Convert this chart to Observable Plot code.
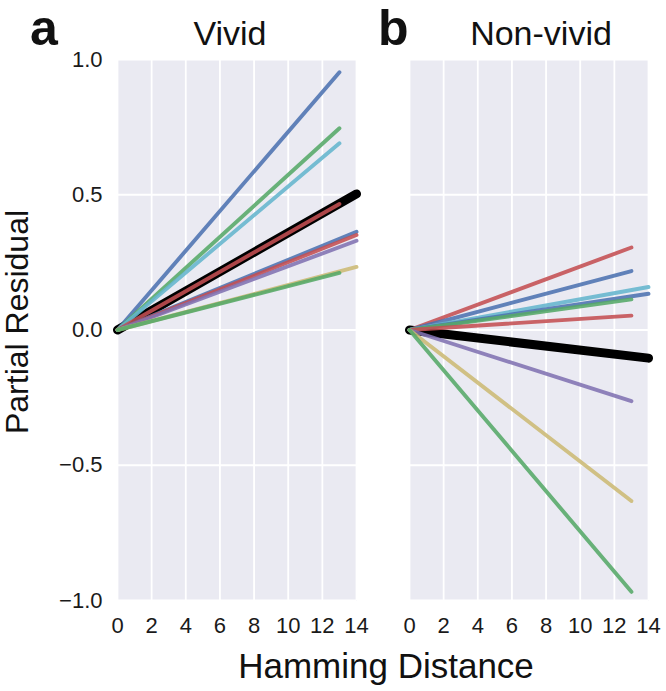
<!DOCTYPE html>
<html><head><meta charset="utf-8">
<script src="https://cdn.jsdelivr.net/npm/d3@7"></script>
<script src="https://cdn.jsdelivr.net/npm/@observablehq/plot@0.6"></script>
<style>body{margin:0;background:#fff}</style>
</head><body><div id="chart"></div>
<script>
const conditions = ["Vivid", "Non-vivid"];
const panelLetters = ["a", "b"];
const palette = ["#4C72B0", "#55A868", "#C44E52", "#8172B2", "#CCB974", "#64B5CD"];
const xTicks = [0, 2, 4, 6, 8, 10, 12, 14];
const yTicks = [-1, -0.5, 0, 0.5, 1];
const xLabel = "Hamming Distance";
const yLabel = "Partial Residual";

// individual fitted lines (each starts at 0,0)
const vividColor = [0, 1, 5, 2, 0, 2, 3, 4, 1];
const vividEndX = [13, 13, 13, 13, 14, 14, 14, 14, 13];
const vividEndY = [0.953, 0.746, 0.69, 0.466, 0.363, 0.351, 0.33, 0.233, 0.211];
const nonVividColor = [2, 0, 5, 0, 1, 2, 3, 4, 1];
const nonVividEndX = [13, 13, 14, 14, 13, 13, 13, 13, 13];
const nonVividEndY = [0.305, 0.218, 0.159, 0.134, 0.113, 0.053, -0.263, -0.632, -0.968];
// group-level fit (black)
const groupEndX = [14, 14];
const groupEndY = [0.503, -0.104];

const rows = [];
const addLines = (cond, cols, ex, ey) => {
  cols.forEach((c, i) => {
    const id = cond + i;
    rows.push({cond, id, color: palette[c], x: 0, y: 0});
    rows.push({cond, id, color: palette[c], x: ex[i], y: ey[i]});
  });
};
addLines(conditions[0], vividColor, vividEndX, vividEndY);
addLines(conditions[1], nonVividColor, nonVividEndX, nonVividEndY);

const groupRows = [];
conditions.forEach((cond, i) => {
  groupRows.push({cond, x: 0, y: 0});
  groupRows.push({cond, x: groupEndX[i], y: groupEndY[i]});
});

const font = "'Liberation Sans', Arial, Helvetica, sans-serif";

const svg = Plot.plot({
  width: 666, height: 691,
  marginLeft: 117, marginRight: 17, marginTop: 59, marginBottom: 91,
  style: {fontFamily: font, color: "#1a1a1a", background: "white"},
  x: {domain: [0, 14]},
  y: {domain: [-1, 1]},
  fx: {domain: conditions, paddingInner: 0.181, paddingOuter: 0, label: null, axis: null},
  color: {type: "identity"},
  marks: [
    Plot.frame({fill: "#EAEAF2", stroke: null}),
    Plot.gridX(xTicks, {stroke: "white", strokeOpacity: 1, strokeWidth: 1.8}),
    Plot.gridY(yTicks, {stroke: "white", strokeOpacity: 1, strokeWidth: 1.8}),
    Plot.line(groupRows, {x: "x", y: "y", z: "cond", fx: "cond", stroke: "black", strokeWidth: 9}),
    Plot.line(rows, {x: "x", y: "y", z: "id", fx: "cond", stroke: "color", strokeWidth: 3.9, strokeOpacity: 0.88, strokeLinecap: "round"}),
    Plot.axisX(xTicks, {tickSize: 0, tickPadding: 17, fontSize: 22, label: null}),
    Plot.axisY(yTicks, {tickSize: 0, tickPadding: 15, fontSize: 22, tickFormat: d3.format(".1f"), label: null})
  ]
});

const s = d3.select(svg);
// panel titles
const titleX = [230, 541];
conditions.forEach((c, i) => {
  s.append("text").attr("x", titleX[i]).attr("y", 45).attr("text-anchor", "middle")
    .attr("font-size", 34).attr("fill", "#111").text(c);
});
s.append("text").attr("x", 386).attr("y", 678).attr("text-anchor", "middle")
  .attr("font-size", 35).attr("fill", "#111").text(xLabel);
s.append("text").attr("transform", "translate(28,322) rotate(-90)").attr("text-anchor", "middle")
  .attr("font-size", 32).attr("fill", "#111").text(yLabel);
const letterX = [30, 378];
panelLetters.forEach((l, i) => {
  s.append("text").attr("x", letterX[i]).attr("y", 45).attr("text-anchor", "start")
    .attr("font-size", 50).attr("font-weight", "bold").attr("fill", "#111").text(l);
});
document.getElementById("chart").appendChild(svg);
</script>
</body></html>
